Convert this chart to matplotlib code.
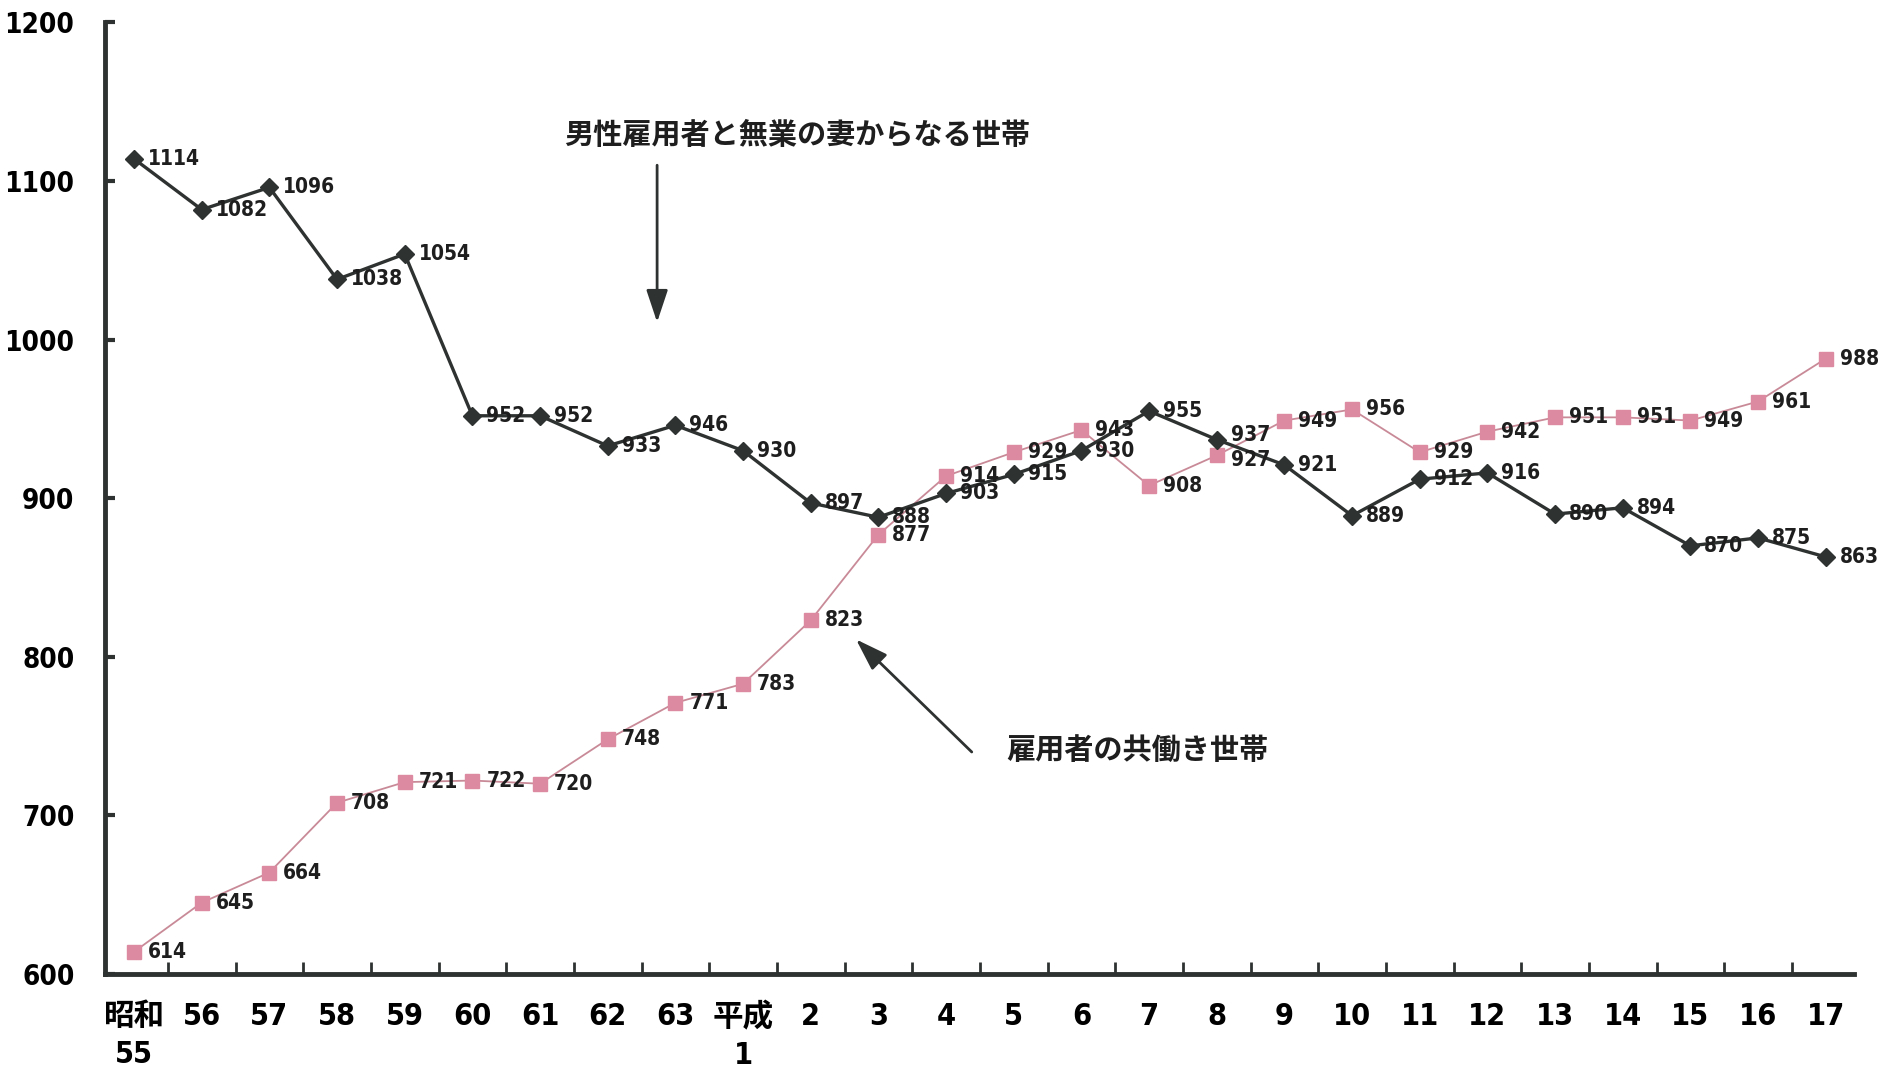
import matplotlib
matplotlib.use("Agg")
import matplotlib.pyplot as plt
import numpy as np

plt.rcParams['font.family'] = ['DejaVu Sans', 'Noto Sans CJK JP']
plt.rcParams['font.stretch'] = 'condensed'

# --- data ---
years = ["昭和\n55", "56", "57", "58", "59", "60", "61", "62", "63", "平成\n1",
         "2", "3", "4", "5", "6", "7", "8", "9", "10", "11",
         "12", "13", "14", "15", "16", "17"]
single_income = [1114, 1082, 1096, 1038, 1054, 952, 952, 933, 946, 930,
                 897, 888, 903, 915, 930, 955, 937, 921, 889, 912,
                 916, 890, 894, 870, 875, 863]
dual_income = [614, 645, 664, 708, 721, 722, 720, 748, 771, 783,
               823, 877, 914, 929, 943, 908, 927, 949, 956, 929,
               942, 951, 951, 949, 961, 988]
yticks = [600, 700, 800, 900, 1000, 1100, 1200]

DARK = "#2e3230"
TEXT = "#1e1e1e"
PINK_LINE = "#c98a98"
PINK_MARK = "#dc8aa2"
CJK = ["Noto Sans CJK JP", "DejaVu Sans"]

x = np.arange(len(years))

fig = plt.figure(figsize=(18.91, 10.70), dpi=100)
ax = fig.add_axes([0.0555, 0.0897, 0.925, 0.8893])

ax.plot(x, dual_income, color=PINK_LINE, lw=1.3, marker="s", ms=10,
        mfc=PINK_MARK, mec=PINK_MARK, zorder=3)
ax.plot(x, single_income, color=DARK, lw=2.4, marker="D", ms=9,
        mfc=DARK, mec=DARK, zorder=4)

# value labels, right of each marker (labels at 平成8 crowd each other, spread them a little)
for i, (xi, v) in enumerate(zip(x, single_income)):
    dy = 3 if i == 16 else 0
    ax.annotate(str(v), (xi, v), xytext=(10, dy), textcoords="offset points",
                ha="left", va="center", fontsize=15, fontweight="bold",
                color=TEXT, zorder=5)
for i, (xi, v) in enumerate(zip(x, dual_income)):
    dy = -3 if i == 16 else 0
    ax.annotate(str(v), (xi, v), xytext=(10, dy), textcoords="offset points",
                ha="left", va="center", fontsize=15, fontweight="bold",
                color=TEXT, zorder=5)

# series captions with arrows
arrow = dict(arrowstyle="-|>,head_width=0.3,head_length=0.9",
             color=DARK, lw=2, mutation_scale=22, shrinkA=0, shrinkB=0)
ax.text(9.8, 1129, "男性雇用者と無業の妻からなる世帯", ha="center", va="center",
        fontsize=21, color=TEXT, fontweight="bold", family=CJK)
ax.annotate("", xy=(7.73, 1011), xytext=(7.73, 1110), arrowprops=arrow)
ax.text(14.83, 741, "雇用者の共働き世帯", ha="center", va="center",
        fontsize=21, color=TEXT, fontweight="bold", family=CJK)
ax.annotate("", xy=(10.67, 811), xytext=(12.38, 740), arrowprops=arrow)

# axes styling
ax.set_xlim(-0.43, 25.42)
ax.set_ylim(600, 1200)
ax.set_yticks(yticks)
ax.set_yticklabels([str(t) for t in yticks], fontsize=20, fontweight="bold")
ax.set_xticks(x)
ax.set_xticklabels(years, fontsize=22, fontweight="bold", linespacing=1.4)
ax.set_xticks(x[:-1] + 0.5, minor=True)

ax.tick_params(axis="x", which="major", length=0, pad=20)
ax.tick_params(axis="x", which="minor", direction="in", length=9, width=2, color=DARK)
ax.tick_params(axis="y", direction="in", length=7, width=3, color=DARK, pad=22)

for s in ["top", "right"]:
    ax.spines[s].set_visible(False)
for s in ["left", "bottom"]:
    ax.spines[s].set_linewidth(3.5)
    ax.spines[s].set_color(DARK)

fig.savefig("out.png", dpi=100)
